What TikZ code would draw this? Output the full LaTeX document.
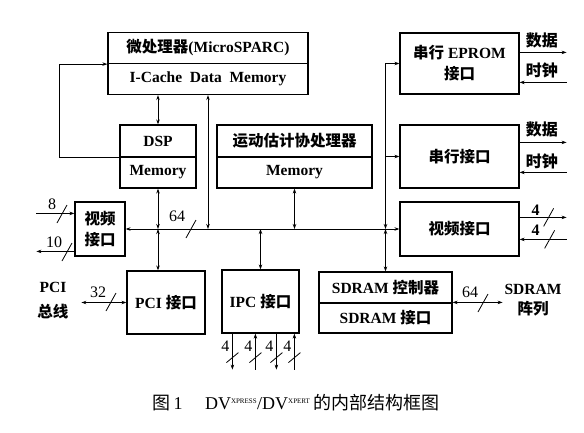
\documentclass[tikz,border=0pt]{standalone}
\usepackage{fontspec}
\setmainfont{Liberation Serif}
\newfontfamily\cjk{Noto Sans CJK SC}
\usetikzlibrary{arrows.meta}
\usetikzlibrary{calc}

\newcommand{\zh}[1]{{\cjk #1}}

\begin{document}
\begin{tikzpicture}[x=1pt, y=-1pt, >={Stealth[length=5pt,width=3.5pt]},
    every node/.style={inner sep=0pt},
    box/.style={draw, line width=1.2pt, align=center, font=\fontsize{15.5}{21}\selectfont\bfseries},
    wire/.style={line width=0.8pt},
    num/.style={font=\fontsize{16}{18}\selectfont},
    sig/.style={font=\fontsize{16}{18}\selectfont\bfseries},
    hmark/.pic={\draw[wire] (-5,9) -- (5,-9);},
    vmark/.pic={\draw[wire] (-6,5) -- (6,-5);}]

        \useasboundingbox (0,0) rectangle (584,432);

        % processor and the two coprocessors
        \node[box, minimum width=200, minimum height=31] (cpu) at (208,48) {\zh{微处理器}(MicroSPARC)};
        \node[box, minimum width=200, minimum height=31] (cache) at (208,79) {I-Cache\ \ Data\ \ Memory};

        \node[box, minimum width=76, minimum height=32] (dsp) at (158,141) {DSP};
        \node[box, minimum width=76, minimum height=31] (dspmem) at (158,172.5) {Memory};

        \node[box, minimum width=155, minimum height=32] (mest) at (294.5,141) {\zh{运动估计协处理器}};
        \node[box, minimum width=155, minimum height=31] (mestmem) at (294.5,172.5) {Memory};

        % interfaces on the right
        \node[box, minimum width=119, minimum height=61] (eprom) at (459.5,63.5) {\zh{串行}\ EPROM\\\zh{接口}};
        \node[box, minimum width=119, minimum height=63] (serial) at (459.5,156.5) {\zh{串行接口}};
        \node[box, minimum width=119, minimum height=54] (vidR) at (459.5,229) {\zh{视频接口}};

        % interfaces at the bottom and left
        \node[box, minimum width=50, minimum height=54] (vidL) at (100,229) {\zh{视频}\\\zh{接口}};
        \node[box, minimum width=78, minimum height=63] (pci) at (166,302.5) {PCI \zh{接口}};
        \node[box, minimum width=77, minimum height=63] (ipc) at (260.5,301.5) {IPC \zh{接口}};
        \node[box, minimum width=133, minimum height=31] (sdc) at (385.5,287.5) {SDRAM \zh{控制器}};
        \node[box, minimum width=133, minimum height=30] (sdi) at (385.5,318) {SDRAM \zh{接口}};

        % 64-bit bus
        \coordinate (bus) at (vidL.east);
        \draw[wire, <->] (vidL.east) -- (vidR.west);
        \pic at (191,229) {hmark};
        \node[num] (buswidth) at (177,216) {64};

        \draw[wire, <->] (dsp.north) -- (dsp.north |- cache.south);
        \draw[wire, ->] (dsp.south west) -- ++(-60,0) |- (cpu.south west);
        \draw[wire, <->] (cache.south) -- (cache.south |- bus);
        \draw[wire, <->] (dspmem.south) -- (dspmem.south |- bus);
        \draw[wire, <->] (dspmem.south |- bus) -- (dspmem.south |- pci.north);
        \draw[wire, <->] (mestmem.south) -- (mestmem.south |- bus);
        \draw[wire, <->] (bus -| ipc.north) -- (ipc.north);

        \draw[wire, <->] (bus -| sdc.north) |- (eprom.west);
        \draw[wire, <->] (bus -| sdc.north) -- (sdc.north);
        \draw[wire, ->] (sdc.north |- serial.west) -- (serial.west);

        % data and clock lines
        \draw[wire, ->] ($(eprom.north east)+(0,20)$) -- ++(47,0) coordinate (epdata);
        \draw[wire, <-] ($(eprom.north east)+(0,50)$) -- ++(47,0) coordinate (epclock);
        \node[sig, anchor=south west] (epdatalbl) at ($(eprom.north east)+(6,16)$) {\zh{数据}};
        \node[sig, anchor=south west] (epclocklbl) at ($(eprom.north east)+(6,46)$) {\zh{时钟}};

        \draw[wire, ->] ($(serial.north east)+(0,18)$) -- ++(47,0) coordinate (sedata);
        \draw[wire, <-] ($(serial.north east)+(0,48)$) -- ++(47,0) coordinate (seclock);
        \node[sig, anchor=south west] (sedatalbl) at ($(serial.north east)+(6,13)$) {\zh{数据}};
        \node[sig, anchor=south west] (seclocklbl) at ($(serial.north east)+(6,45)$) {\zh{时钟}};

        % video lines
        \draw[wire, ->] ($(vidR.north east)+(0,16)$) -- ++(47,0) coordinate (voutR);
        \draw[wire, <-] ($(vidR.north east)+(0,38)$) -- ++(47,0) coordinate (vinR);
        \pic at ($(vidR.north east)+(29,16)$) {hmark};
        \pic at ($(vidR.north east)+(30,38)$) {hmark};
        \node[sig, anchor=south] (voutRlbl) at ($(vidR.north east)+(16,14)$) {4};
        \node[sig, anchor=south] (vinRlbl) at ($(vidR.north east)+(16,34)$) {4};

        \draw[wire, <-] ($(vidL.north west)+(0,12)$) -- ++(-38,0) coordinate (vinL);
        \draw[wire, ->] ($(vidL.north west)+(0,50)$) -- ++(-38,0) coordinate (voutL);
        \pic at (62,214) {hmark};
        \pic at (67,252) {hmark};
        \node[num] (vinLlbl) at (52,204) {8};
        \node[num] (voutLlbl) at (54,242) {10};

        % PCI bus
        \draw[wire, <->] (pci.west) -- ++(-45,0) coordinate (pcibus);
        \pic at (111,302) {hmark};
        \node[num] (pciwidth) at (98,292) {32};
        \node[sig, align=center, font=\fontsize{15.5}{25}\selectfont\bfseries] (pcilbl) at (53,301) {PCI\\\zh{总线}};

        % SDRAM array
        \draw[wire, <->] (sdi.north east) -- ++(50,0) coordinate (sdbus);
        \pic at (483,303) {hmark};
        \node[num] (sdwidth) at (470,292) {64};
        \node[sig, align=center, font=\fontsize{15.5}{20}\selectfont\bfseries] (sdlbl) at (533,300) {SDRAM\\\zh{阵列}};

        % IPC lines
        \foreach \dx/\tip in {11/->, 34/<-, 55/->, 73/<-} {
          \draw[wire, \tip] ($(ipc.south west)+(\dx,0)$) -- ++(0,36) coordinate (ipc\dx);
          \pic at ($(ipc.south west)+(\dx,24)$) {vmark};
          \node[num] (ipclbl\dx) at ($(ipc.south west)+(\dx-7,13)$) {4};
        }

        \node[font=\fontsize{18}{20}\selectfont] (caption) at (296,403)
          {\zh{图}\,1\quad\ DV\textsuperscript{\scriptsize XPRESS}/DV\textsuperscript{\scriptsize XPERT}\,\zh{的内部结构框图}};

      \end{tikzpicture}
\end{document}
